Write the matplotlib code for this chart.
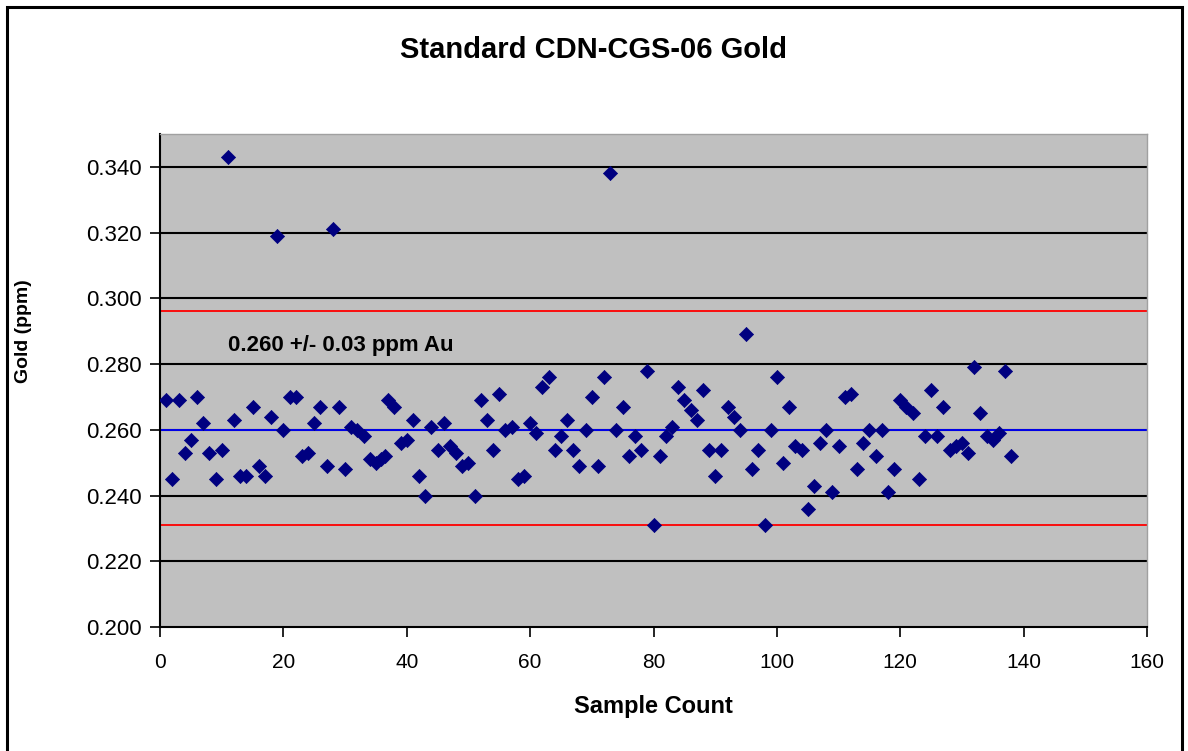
import numpy as np
import matplotlib
matplotlib.use("Agg")
import matplotlib.pyplot as plt
from matplotlib.patches import Rectangle

plt.rcParams['font.family'] = ['Liberation Sans', 'DejaVu Sans']

# sample count (x) and gold value (ppm)
sample = [1, 2, 3, 4, 5, 6, 7, 8, 9, 10,
          11, 12, 13, 14, 15, 16, 17, 18, 19, 20,
          21, 22, 23, 24, 25, 26, 27, 28, 29, 30,
          31, 32, 33, 34, 35, 35.8, 36.5, 37, 38, 39,
          40, 41, 42, 43, 44, 45, 46, 47, 48, 49,
          50, 51, 52, 53, 54, 55, 56, 57, 58, 59,
          60, 61, 62, 63, 64, 65, 66, 67, 68, 69,
          70, 71, 72, 73, 74, 75, 76, 77, 78, 79,
          80, 81, 82, 83, 84, 85, 86, 87, 88, 89,
          90, 91, 92, 93, 94, 95, 96, 97, 98, 99,
          100, 101, 102, 103, 104, 105, 106, 107, 108, 109,
          110, 111, 112, 113, 114, 115, 116, 117, 118, 119,
          120, 121, 122, 123, 124, 125, 126, 127, 128, 129,
          130, 131, 132, 133, 134, 135, 136, 137, 138]
gold = [0.269, 0.245, 0.269, 0.253, 0.257, 0.270, 0.262, 0.253, 0.245, 0.254,
        0.343, 0.263, 0.246, 0.246, 0.267, 0.249, 0.246, 0.264, 0.319, 0.260,
        0.270, 0.270, 0.252, 0.253, 0.262, 0.267, 0.249, 0.321, 0.267, 0.248,
        0.261, 0.260, 0.258, 0.251, 0.250, 0.251, 0.252, 0.269, 0.267, 0.256,
        0.257, 0.263, 0.246, 0.240, 0.261, 0.254, 0.262, 0.255, 0.253, 0.249,
        0.250, 0.240, 0.269, 0.263, 0.254, 0.271, 0.260, 0.261, 0.245, 0.246,
        0.262, 0.259, 0.273, 0.276, 0.254, 0.258, 0.263, 0.254, 0.249, 0.260,
        0.270, 0.249, 0.276, 0.338, 0.260, 0.267, 0.252, 0.258, 0.254, 0.278,
        0.231, 0.252, 0.258, 0.261, 0.273, 0.269, 0.266, 0.263, 0.272, 0.254,
        0.246, 0.254, 0.267, 0.264, 0.260, 0.289, 0.248, 0.254, 0.231, 0.260,
        0.276, 0.250, 0.267, 0.255, 0.254, 0.236, 0.243, 0.256, 0.260, 0.241,
        0.255, 0.270, 0.271, 0.248, 0.256, 0.260, 0.252, 0.260, 0.241, 0.248,
        0.269, 0.267, 0.265, 0.245, 0.258, 0.272, 0.258, 0.267, 0.254, 0.255,
        0.256, 0.253, 0.279, 0.265, 0.258, 0.257, 0.259, 0.278, 0.252]

mean_value = 0.260
upper_limit = 0.296
lower_limit = 0.231

fig = plt.figure(figsize=(11.88, 7.51), dpi=100)
fig.patch.set_facecolor('white')

# outer chart frame
fig.patches.append(Rectangle((7 / 1188, -0.02), 1175 / 1188, 1 - 7 / 751 + 0.02,
                             transform=fig.transFigure, fill=False,
                             edgecolor='black', linewidth=2.2))

ax = fig.add_axes([160 / 1188, 1 - 627 / 751, 987 / 1188, 493 / 751])
ax.set_facecolor('#C0C0C0')

ax.set_xlim(0, 160)
ax.set_ylim(0.200, 0.350)
ax.set_xticks(np.arange(0, 161, 20))
ax.set_yticks(np.arange(0.200, 0.341, 0.020))
ax.set_yticklabels(['%.3f' % v for v in np.arange(0.200, 0.341, 0.020)])

for v in np.arange(0.220, 0.341, 0.020):
    ax.axhline(v, color='black', linewidth=1.5, zorder=1)

ax.axhline(upper_limit, color='#FF0000', linewidth=1.3, zorder=2)
ax.axhline(lower_limit, color='#FF0000', linewidth=1.3, zorder=2)
ax.axhline(mean_value, color='#0000FF', linewidth=1.3, zorder=2)

ax.scatter(sample, gold, marker='D', s=52, c='#000080', edgecolors='#000080',
           linewidths=0.5, zorder=3)

ax.text(11, 0.2855, '0.260 +/- 0.03 ppm Au', fontsize=16, fontweight='bold',
        ha='left', va='center', zorder=4)

for side in ['top', 'right']:
    ax.spines[side].set_color('#A0A0A0')
    ax.spines[side].set_linewidth(1)
for side in ['left', 'bottom']:
    ax.spines[side].set_color('black')
    ax.spines[side].set_linewidth(1.5)

ax.tick_params(axis='both', direction='out', length=7, width=1.2, colors='black')
ax.tick_params(axis='x', pad=12, labelsize=15)
ax.tick_params(axis='y', pad=6, labelsize=16)

ax.set_xlabel('Sample Count', fontsize=17, fontweight='bold', labelpad=16)
ax.set_ylabel('Gold (ppm)', fontsize=14, fontweight='bold')
ax.yaxis.set_label_coords(-128 / 987, 0.6)

fig.text(0.5, 1 - 50 / 751, 'Standard CDN-CGS-06 Gold', fontsize=21,
         fontweight='bold', ha='center', va='center')

fig.savefig('out.png', dpi=100)
